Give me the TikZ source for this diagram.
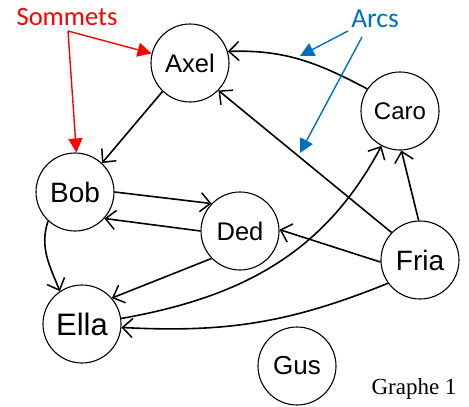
\documentclass[tikz,border=0pt]{standalone}
\usepackage{fontspec}
\setmainfont{Liberation Sans}
\newfontfamily\labelfont{Carlito}
\newfontfamily\captionfont{Liberation Serif}
\usetikzlibrary{arrows.meta}
\definecolor{arcblue}{RGB}{0,112,192}
\begin{document}
\begin{tikzpicture}[x=1pt,y=-1pt,
  vertex/.style={draw,circle,line width=1.1pt,minimum size=78pt,inner sep=0pt},
  arc/.style={line width=1.6pt,-{Straight Barb[length=10pt,width=19pt,line width=1.5pt]}},
  pointer/.style={line width=1.4pt,-{Triangle[length=14pt,width=14pt]}}]
\useasboundingbox (0,0) rectangle (469,407);
% vertices
\node[vertex,font=\fontsize{25.5}{25.5}\selectfont] (Axel) at (190,63) {Axel};
\node[vertex,font=\fontsize{24}{24}\selectfont] (Caro) at (400,111) {Caro};
\node[vertex,font=\fontsize{28}{28}\selectfont] (Bob) at (75,192) {Bob};
\node[vertex,font=\fontsize{25.5}{25.5}\selectfont] (Ded) at (240,231) {Ded};
\node[vertex,font=\fontsize{28}{28}\selectfont] (Fria) at (420,260) {Fria};
\node[vertex,font=\fontsize{31}{31}\selectfont] (Ella) at (82,324) {Ella};
\node[vertex,font=\fontsize{26}{26}\selectfont] (Gus) at (297,366) {Gus};
% arcs
\draw[arc] (Axel.-134) -- (Bob.47);
\draw[arc] (Caro.146) to[out=152,in=2] (Axel.17);
\draw[arc] (Fria.136) -- (Axel.-44);
\draw[arc] (Fria.92) -- (Caro.-88);
\draw[arc] (Bob.0) -- (Ded.136);
\draw[arc] (Ded.180) -- (Bob.-42);
\draw[arc] (Fria.183) -- (Ded.2);
\draw[arc] (Ded.-136) -- (Ella.41);
\draw[arc] (Bob.-133) to[out=-108,in=112] (Ella.124);
\draw[arc] (Ella.8) to[out=10,in=-118] (Caro.-118);
\draw[arc] (Fria.216) to[out=202,in=-3] (Ella.-5);
% annotations
\node[text=red,font=\labelfont\fontsize{26.5}{26.5}\selectfont] (sommets) at (67,17) {Sommets};
\coordinate (sfork) at (68,31);
\draw[red,pointer] (sfork) -- (Axel.166);
\draw[red,pointer] (sfork) -- (Bob.88);
\node[text=arcblue,font=\labelfont\fontsize{27.5}{27.5}\selectfont] (arcs) at (375,19) {Arcs};
\coordinate (aone) at (348,31);
\coordinate (atwo) at (362,37);
\coordinate (aonetip) at (300,56);
\coordinate (atwotip) at (300,153);
\draw[arcblue,pointer] (aone) -- (aonetip);
\draw[arcblue,pointer] (atwo) -- (atwotip);
\node[font=\captionfont\fontsize{23}{23}\selectfont] (caption) at (414,389) {Graphe 1};
\end{tikzpicture}
\end{document}
